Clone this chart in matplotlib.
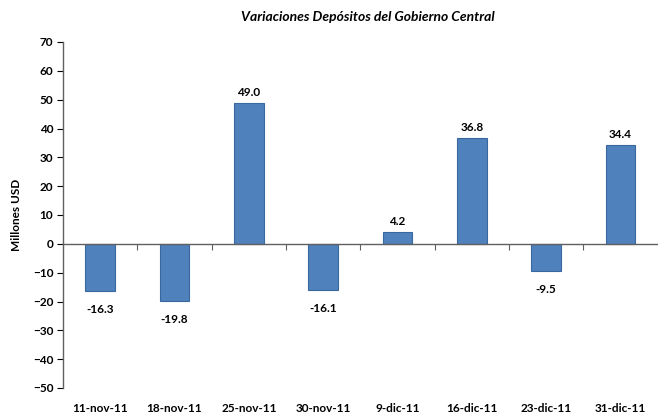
import numpy as np
import matplotlib.pyplot as plt

dates = ["11-nov-11", "18-nov-11", "25-nov-11", "30-nov-11",
         "9-dic-11", "16-dic-11", "23-dic-11", "31-dic-11"]
values = [-16.3, -19.8, 49.0, -16.1, 4.2, 36.8, -9.5, 34.4]
yticks = list(range(-50, 71, 10))

plt.rcParams["font.family"] = ["Lato", "DejaVu Sans"]

fig = plt.figure(figsize=(6.59, 4.16), dpi=100)
ax = fig.add_axes([63 / 659, 1 - 388 / 416, 1 - 63 / 659 - 0.002, (388 - 42) / 416])

x = np.arange(len(dates))
ax.bar(x, values, width=0.4, color="#4F81BD", edgecolor="#3A679E", linewidth=0.8, zorder=2)

for xi, v in zip(x, values):
    off = 1.5 if v >= 0 else -4.5
    ax.text(xi, v + off, f"{v:.1f}", ha="center", va="bottom" if v >= 0 else "top",
            fontsize=8.5, fontweight="bold")

ax.set_xlim(-0.5, len(dates) - 0.5)
ax.set_ylim(-50, 70)
ax.set_yticks(yticks)
ax.tick_params(axis="y", direction="out", length=4, labelsize=8.5, pad=3)
for lbl in ax.get_yticklabels():
    lbl.set_fontweight("bold")

ax.set_xticks(x)
ax.set_xticklabels(dates, fontsize=8.5, fontweight="bold")
ax.tick_params(axis="x", length=0, pad=11)

for s in ["top", "right", "bottom"]:
    ax.spines[s].set_visible(False)
ax.spines["left"].set_color("#606060")
ax.spines["left"].set_linewidth(1.0)

# zero line with category-boundary ticks
ax.axhline(0, color="#606060", linewidth=1.0, zorder=3)
zero_pos = (0 - (-50)) / (70 - (-50))
sec = ax.secondary_xaxis(zero_pos)
sec.set_xticks(np.arange(len(dates) - 1) + 0.5)
sec.set_xticklabels([])
sec.tick_params(direction="out", length=4, color="#606060")
sec.spines["bottom"].set_visible(False)

ax.set_ylabel("Millones USD", fontsize=8.5, fontweight="bold", labelpad=8)
fig.text(0.558, 1 - 17 / 416, "Variaciones Depósitos del Gobierno Central",
         ha="center", va="center", fontsize=10, fontweight="bold", style="italic")

fig.savefig("out.png", dpi=100)
